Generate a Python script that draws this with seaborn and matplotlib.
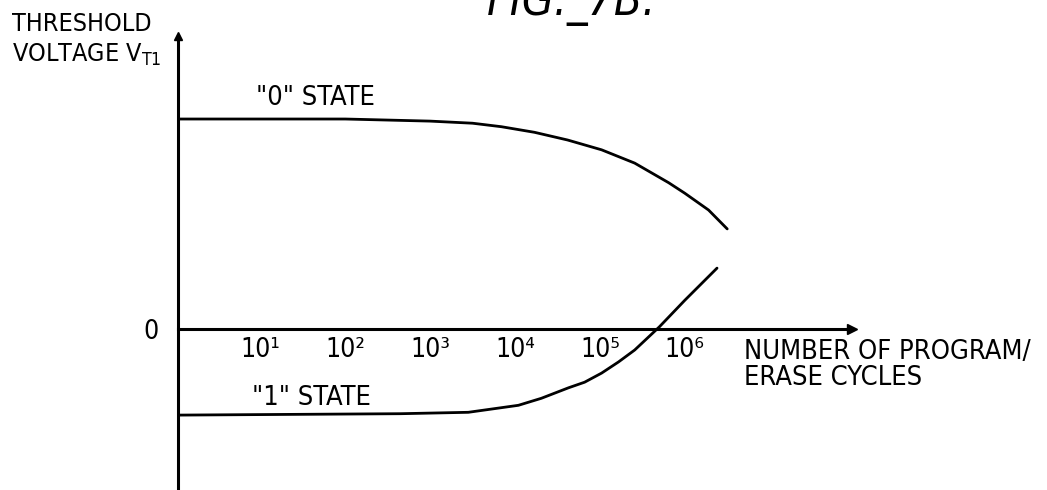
import pandas as pd
import matplotlib.pyplot as plt
import seaborn as sns

# log10 of program/erase cycles, threshold voltage (arbitrary units)
log_cycles_0 = [0.03, 2.0, 3.0, 3.5, 3.84, 4.23, 4.62, 5.02, 5.41, 5.61, 5.81, 6.0, 6.28, 6.5]
vt_0 = [3.0, 3.0, 2.97, 2.94, 2.89, 2.81, 2.70, 2.56, 2.37, 2.23, 2.09, 1.94, 1.70, 1.43]

log_cycles_1 = [0.03, 2.65, 3.45, 4.04, 4.31, 4.63, 4.82, 5.02, 5.22, 5.41, 5.70, 6.0, 6.38]
vt_1 = [-1.23, -1.21, -1.19, -1.09, -0.99, -0.84, -0.76, -0.63, -0.47, -0.30, 0.03, 0.41, 0.87]

tick_pos = [1, 2, 3, 4, 5, 6]
tick_lab = ["10¹", "10²", "10³", "10⁴", "10⁵", "10⁶"]

df = pd.concat([
    pd.DataFrame({"cycles": log_cycles_0, "vt": vt_0, "state": '"0" STATE'}),
    pd.DataFrame({"cycles": log_cycles_1, "vt": vt_1, "state": '"1" STATE'}),
])

sns.set_style("white")
plt.rcParams["font.family"] = ["DejaVu Sans"]
plt.rcParams["font.stretch"] = "condensed"
plt.rcParams["text.color"] = "black"
plt.rcParams["xtick.color"] = "black"
plt.rcParams["ytick.color"] = "black"

fig = plt.figure(figsize=(10.47, 4.90), dpi=100)
ax = fig.add_axes([178 / 1047, 0.0, (852 - 178) / 1047, (490 - 36) / 490])

sns.lineplot(data=df, x="cycles", y="vt", hue="state", palette=["black", "black"],
             linewidth=2.0, legend=False, ax=ax, sort=False)

ax.set_xlim(0.03, 7.97)
ax.set_ylim(-2.3, 4.186)

# axes drawn like a hand sketch: spines crossing at zero, arrow heads
for s in ["top", "right"]:
    ax.spines[s].set_visible(False)
ax.spines["bottom"].set_position(("data", 0))
ax.spines["bottom"].set_linewidth(2.2)
ax.spines["left"].set_linewidth(2.2)
ax.spines["bottom"].set_color("black")
ax.spines["left"].set_color("black")
ax.plot(1, 0, ">", color="black", markersize=7, transform=ax.get_yaxis_transform(), clip_on=False)
ax.plot(0.03, 1, "^", color="black", markersize=6, transform=ax.get_xaxis_transform(), clip_on=False)

fs = 19.5
ax.set_xticks(tick_pos)
ax.set_xticklabels(tick_lab, fontsize=19)
ax.tick_params(axis="x", direction="inout", length=6, width=1.5, pad=3)
ax.set_yticks([0])
ax.set_yticklabels(["0"], fontsize=19)
ax.tick_params(axis="y", length=0, pad=14)
ax.set_xlabel("")
ax.set_ylabel("")

ax.text(0.95, 3.3, '"0" STATE', fontsize=fs, ha="left", va="center")
ax.text(0.9, -0.98, '"1" STATE', fontsize=fs, ha="left", va="center")
ax.text(6.7, -0.52, "NUMBER OF PROGRAM/\nERASE CYCLES", fontsize=fs, ha="left", va="center",
        linespacing=1.0)

fig.text(12 / 1047, 1 - 12 / 490, "THRESHOLD\nVOLTAGE $\\mathregular{V_{T1}}$", fontsize=18,
         ha="left", va="top", linespacing=1.3)
fig.text(487 / 1047, 1 - 15 / 490, "FIG._7B.", fontsize=33, style="italic",
         ha="left", va="baseline")

fig.savefig("out.png", dpi=100)
